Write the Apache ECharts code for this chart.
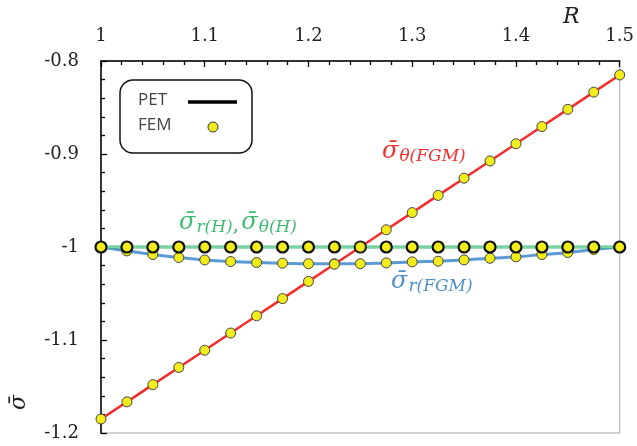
<!DOCTYPE html>
<html>
<head>
<meta charset="utf-8">
<script src="https://cdn.jsdelivr.net/npm/echarts@6/dist/echarts.min.js"></script>
<style>html,body{margin:0;padding:0;background:#fff}#c{width:637px;height:446px}</style>
</head>
<body>
<div id="c"></div>
<script>
// Data
var R = [1, 1.025, 1.05, 1.075, 1.1, 1.125, 1.15, 1.175, 1.2, 1.225, 1.25, 1.275, 1.3, 1.325, 1.35, 1.375, 1.4, 1.425, 1.45, 1.475, 1.5];
var sigmaThetaFGM = [-1.185, -1.1665, -1.148, -1.1295, -1.111, -1.0925, -1.074, -1.0555, -1.037, -1.0185, -1.0, -0.9815, -0.963, -0.9445, -0.926, -0.9075, -0.889, -0.8705, -0.852, -0.8335, -0.815];
var sigmaRFGM = [-1.0, -1.0042, -1.0081, -1.0113, -1.0139, -1.0156, -1.0167, -1.0174, -1.018, -1.018, -1.018, -1.0171, -1.016, -1.0153, -1.0139, -1.0121, -1.0106, -1.0081, -1.0059, -1.0027, -1.0];
var sigmaH = [-1, -1, -1, -1, -1, -1, -1, -1, -1, -1, -1, -1, -1, -1, -1, -1, -1, -1, -1, -1, -1];
var xTicks = {min: 1, max: 1.5, interval: 0.1};
var yTicks = {min: -1.2, max: -0.8, interval: 0.1};

function pairs(ys){ return R.map(function(r,i){ return [r, ys[i]]; }); }

var RED = '#f42c2c', BLUE = '#4f8fc8', GREEN = '#3dbb72', YEL = '#f2ec1a';
var tickFont = 'DejaVu Serif';

var chart = echarts.init(document.getElementById('c'), null, {renderer: 'canvas'});
var marker = function(data, bw){
  return {type: 'scatter', data: data, symbol: 'circle', symbolSize: bw > 1 ? 11 : 10,
    itemStyle: {color: YEL, borderColor: bw > 1 ? '#111' : '#444', borderWidth: bw, opacity: 1},
    z: 5, silent: true};
};
function mathLabel(color){
  return {a: {fontSize: 24, fontStyle: 'italic', fontFamily: 'DejaVu Serif', fill: color},
          b: {fontSize: 17, fontStyle: 'italic', fontFamily: 'DejaVu Serif', fill: color, padding: [10, 0, 0, 1]},
          c: {fontSize: 21, fontFamily: 'DejaVu Serif', fill: color, padding: [6, 2, 0, 0]}};
}
chart.setOption({
  animation: false,
  grid: {left: 101, top: 61, right: 17, bottom: 13, show: true, borderColor: '#c4c4c4', borderWidth: 1.5, backgroundColor: 'transparent'},
  xAxis: {
    type: 'value', position: 'top', min: xTicks.min, max: xTicks.max, interval: xTicks.interval,
    axisLine: {show: true, onZero: false, lineStyle: {color: '#000', width: 1.5}},
    axisTick: {show: true, inside: true, length: 6, lineStyle: {color: '#000', width: 1.3}},
    minorTick: {show: true, splitNumber: 5, length: 4, lineStyle: {color: '#000', width: 1.3}},
    splitLine: {show: false},
    axisLabel: {fontFamily: tickFont, fontSize: 18, color: '#222', margin: 16}
  },
  yAxis: {
    type: 'value', min: yTicks.min, max: yTicks.max, interval: yTicks.interval,
    axisLine: {show: true, onZero: false, lineStyle: {color: '#000', width: 1.5}},
    axisTick: {show: true, inside: true, length: 6, lineStyle: {color: '#000', width: 1.3}},
    minorTick: {show: true, splitNumber: 5, length: 4, lineStyle: {color: '#000', width: 1.3}},
    splitLine: {show: false},
    axisLabel: {fontFamily: tickFont, fontSize: 18, color: '#222', margin: 22}
  },
  series: [
    {type: 'line', data: pairs(sigmaRFGM), showSymbol: false, smooth: true, lineStyle: {color: '#5b9bd5', width: 3}, z: 2},
    {type: 'line', data: pairs(sigmaH), showSymbol: false, lineStyle: {color: GREEN, width: 3.2}, z: 2},
    {type: 'line', data: pairs(sigmaH), showSymbol: false, lineStyle: {color: '#b9ecd0', width: 1}, z: 2},
    {type: 'line', data: pairs(sigmaThetaFGM), showSymbol: false, lineStyle: {color: RED, width: 2.5}, z: 3},
    marker(pairs(sigmaRFGM), 1),
    marker(pairs(sigmaH), 2.2),
    marker(pairs(sigmaThetaFGM), 1)
  ],
  graphic: [
    {type: 'text', left: 563, top: 6, style: {text: 'R', font: 'italic 22px "DejaVu Serif"', fill: '#222'}},
    {type: 'text', x: 8, y: 410, rotation: Math.PI/2, style: {text: 'σ̄', font: 'italic 22px "DejaVu Serif"', fill: '#222'}},
    {type: 'rect', shape: {x: 120, y: 80, width: 132, height: 73, r: 13}, style: {fill: '#fff', stroke: '#111', lineWidth: 1.5}, z: 10},
    {type: 'text', x: 138, y: 92, style: {text: 'PET', font: '17px "Open Sans"', fill: '#444'}, z: 11},
    {type: 'text', x: 138, y: 117, style: {text: 'FEM', font: '17px "Open Sans"', fill: '#444'}, z: 11},
    {type: 'line', shape: {x1: 188, y1: 102, x2: 237, y2: 102}, style: {stroke: '#000', lineWidth: 3.5}, z: 11},
    {type: 'circle', shape: {cx: 213, cy: 127, r: 5}, style: {fill: YEL, stroke: '#333', lineWidth: 1}, z: 11},
    {type: 'text', x: 382, y: 138, z: 12, style: {text: '{a|σ̄}{b|θ(FGM)}', fill: RED, rich: mathLabel(RED)}},
    {type: 'text', x: 179, y: 209, z: 12, style: {text: '{a|σ̄}{b|r(H)}{c|,}{a|σ̄}{b|θ(H)}', fill: GREEN, rich: mathLabel(GREEN)}},
    {type: 'text', x: 391, y: 268, z: 12, style: {text: '{a|σ̄}{b|r(FGM)}', fill: BLUE, rich: mathLabel(BLUE)}}
  ]
});
</script>
</body>
</html>
